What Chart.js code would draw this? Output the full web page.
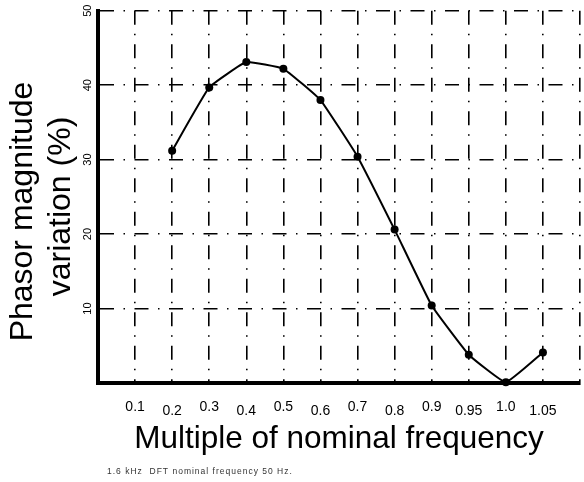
<!DOCTYPE html>
<html>
<head>
<meta charset="utf-8">
<script src="https://cdn.jsdelivr.net/npm/chart.js@4"></script>
<style>
  html, body { margin: 0; padding: 0; background: #fff; }
  #wrap { width: 584px; height: 482px; }
</style>
</head>
<body>
<div id="wrap"><canvas id="phasorChart" width="584" height="482"></canvas></div>
<script>
// multiples of nominal frequency (equally spaced on the axis)
const frequencyLabels = ['0.1', '0.2', '0.3', '0.4', '0.5', '0.6', '0.7', '0.8', '0.9', '0.95', '1.0', '1.05'];
// phasor magnitude variation in %
const magnitudeVariation = [null, 31.2, 39.7, 43.1, 42.2, 38.0, 30.4, 20.6, 10.4, 3.8, 0.1, 4.1];
const yTickValues = [10, 20, 30, 40, 50];
const yTitleLines = ['Phasor magnitude', 'variation (%)'];
const xTitle = 'Multiple of nominal frequency';
const caption = '1.6 kHz  DFT nominal frequency 50 Hz.';

const FONT = '"Liberation Sans", Arial, sans-serif';

// one empty slot on each side so the grid runs from the y axis to the right edge
const axisLabels = [''].concat(frequencyLabels, ['']);
const axisData = [null].concat(magnitudeVariation, [null]);

const extraText = {
    id: 'extraText',
    afterDraw(chart) {
        const ctx = chart.ctx;
        ctx.save();
        ctx.fillStyle = '#000';
        ctx.font = '32px ' + FONT;
        ctx.textAlign = 'center';
        ctx.textBaseline = 'alphabetic';
        ctx.translate(0, 209);
        ctx.rotate(-Math.PI / 2);
        ctx.fillText(yTitleLines[0], -2.5, 32);
        ctx.fillText(yTitleLines[1], 2.5, 70);
        ctx.restore();

        ctx.save();
        ctx.fillStyle = '#333';
        ctx.font = '8.5px ' + FONT;
        ctx.letterSpacing = '1px';
        ctx.textBaseline = 'middle';
        ctx.fillText(caption, 107, 472);
        ctx.restore();
    }
};

const ctx = document.getElementById('phasorChart').getContext('2d');
const phasorChart = new Chart(ctx, {
    type: 'line',
    data: {
        labels: axisLabels,
        datasets: [{
            data: axisData,
            borderColor: '#000',
            borderWidth: 2,
            backgroundColor: '#000',
            pointBackgroundColor: '#000',
            pointBorderColor: '#000',
            pointRadius: 4,
            pointBorderWidth: 0,
            tension: 0.1,
            spanGaps: false,
            clip: false
        }]
    },
    options: {
        responsive: false,
        animation: false,
        layout: {
            padding: { top: 10.7, right: 1, bottom: 0, left: 0 }
        },
        plugins: {
            legend: { display: false },
            tooltip: { enabled: false }
        },
        scales: {
            x: {
                type: 'category',
                offset: false,
                afterFit: (scale) => {
                    scale.height = 99;
                    scale.paddingLeft = 0;
                    scale.paddingRight = 0;
                },
                grid: {
                    color: '#000',
                    lineWidth: 1.6,
                    drawTicks: false,
                    offset: false
                },
                border: {
                    display: true,
                    color: '#000',
                    width: 4,
                    dash: [14, 9, 1.5, 9]
                },
                ticks: {
                    autoSkip: false,
                    maxRotation: 0,
                    minRotation: 0,
                    padding: 21.75,
                    color: '#000',
                    font: { family: FONT, size: 14, lineHeight: '4.5px' },
                    // alternate labels sit a little lower
                    callback: (value, index) => index % 2 === 0 ? ['', axisLabels[index]] : [axisLabels[index]]
                },
                title: {
                    display: true,
                    text: xTitle,
                    color: '#000',
                    font: { family: FONT, size: 31.5 },
                    padding: { top: 0, bottom: 24 }
                }
            },
            y: {
                min: 0,
                max: 50,
                afterFit: (scale) => {
                    scale.width = 98;
                    scale.paddingTop = 0;
                    scale.paddingBottom = 0;
                },
                grid: {
                    color: '#000',
                    lineWidth: 1.6,
                    drawTicks: false
                },
                border: {
                    display: true,
                    color: '#000',
                    width: 4,
                    dash: [14, 9.5, 1.5, 9.5]
                },
                ticks: {
                    stepSize: 10,
                    minRotation: 90,
                    maxRotation: 90,
                    crossAlign: 'center',
                    padding: 4.4,
                    color: '#000',
                    font: { family: FONT, size: 11 },
                    callback: (value) => yTickValues.includes(value) ? String(value) : ''
                }
            }
        }
    },
    plugins: [extraText]
});
</script>
</body>
</html>
